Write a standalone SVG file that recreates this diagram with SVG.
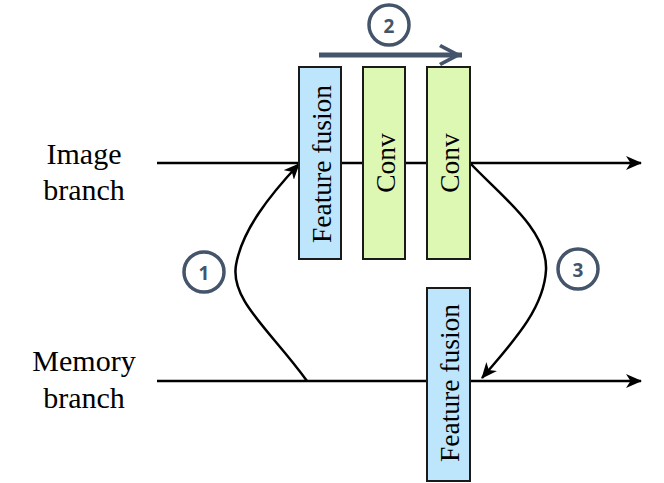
<svg xmlns="http://www.w3.org/2000/svg" width="664" height="483" viewBox="0 0 664 483">
<style>
.lbl{font-family:"Liberation Serif","Times New Roman",serif;font-size:30px;fill:#000;text-anchor:middle}
.box{stroke:#1a1a1a;stroke-width:2}
.blue{fill:#BDE6FC}
.green{fill:#DDF8B2}
.bt{font-family:"Liberation Serif","Times New Roman",serif;font-size:27.5px;fill:#000;text-anchor:middle;dominant-baseline:central}
.line{stroke:#000;stroke-width:2.5;fill:none}
.circ{fill:#fff;stroke:#44546A;stroke-width:3.5}
.num{font-family:"Open Sans","DejaVu Sans",sans-serif;font-weight:bold;font-size:19px;fill:#44546A;text-anchor:middle;dominant-baseline:central}
</style>
<defs>
<marker id="ah" viewBox="0 0 16 14" refX="15" refY="7" markerWidth="16" markerHeight="14" markerUnits="userSpaceOnUse" orient="auto">
<path d="M0,0 L16,7 L0,14 L4.5,7 Z" fill="#000"/>
</marker>
<marker id="ah2" viewBox="0 0 24 24" refX="23" refY="12" markerWidth="24" markerHeight="24" markerUnits="userSpaceOnUse" orient="auto">
<path d="M2,1 L23,12 L2,23 L0,20 L15,12 L0,4 Z" fill="#44546A"/>
</marker>
</defs>
<g id="connectors">
<line class="line" x1="157" y1="163" x2="641" y2="163" marker-end="url(#ah)"/>
<line class="line" x1="157" y1="381" x2="641" y2="381" marker-end="url(#ah)"/>
<path class="line" d="M307,381 C270,330 230,300 236,265 C242,230 270,195 299,164" marker-end="url(#ah)"/>
<path class="line" d="M470,163 C500,195 548,230 546,270 C544,310 510,345 482,378" marker-end="url(#ah)"/>
<line x1="319" y1="55" x2="462" y2="55" stroke="#44546A" stroke-width="5" marker-end="url(#ah2)"/>
</g>
<g id="label-image"><text class="lbl" x="84" y="164">Image</text><text class="lbl" x="84" y="200">branch</text></g>
<g id="label-memory"><text class="lbl" x="84" y="371">Memory</text><text class="lbl" x="84" y="408">branch</text></g>
<g id="fusion1"><rect class="box blue" x="299" y="67" width="42" height="192"/><text class="bt" transform="translate(321,164) rotate(-90)">Feature fusion</text></g>
<g id="conv1"><rect class="box green" x="363" y="67" width="42" height="192"/><text class="bt" transform="translate(385,163) rotate(-90)">Conv</text></g>
<g id="conv2"><rect class="box green" x="427" y="67" width="43" height="192"/><text class="bt" transform="translate(449,163) rotate(-90)">Conv</text></g>
<g id="fusion2"><rect class="box blue" x="427" y="288" width="43" height="193"/><text class="bt" transform="translate(449,383) rotate(-90)">Feature fusion</text></g>
<g id="step1"><circle class="circ" cx="204" cy="272" r="20"/><text class="num" x="204" y="273">1</text></g>
<g id="step2"><circle class="circ" cx="389" cy="25" r="20"/><text class="num" x="389" y="26">2</text></g>
<g id="step3"><circle class="circ" cx="578" cy="269" r="20"/><text class="num" x="578" y="270">3</text></g>
</svg>
